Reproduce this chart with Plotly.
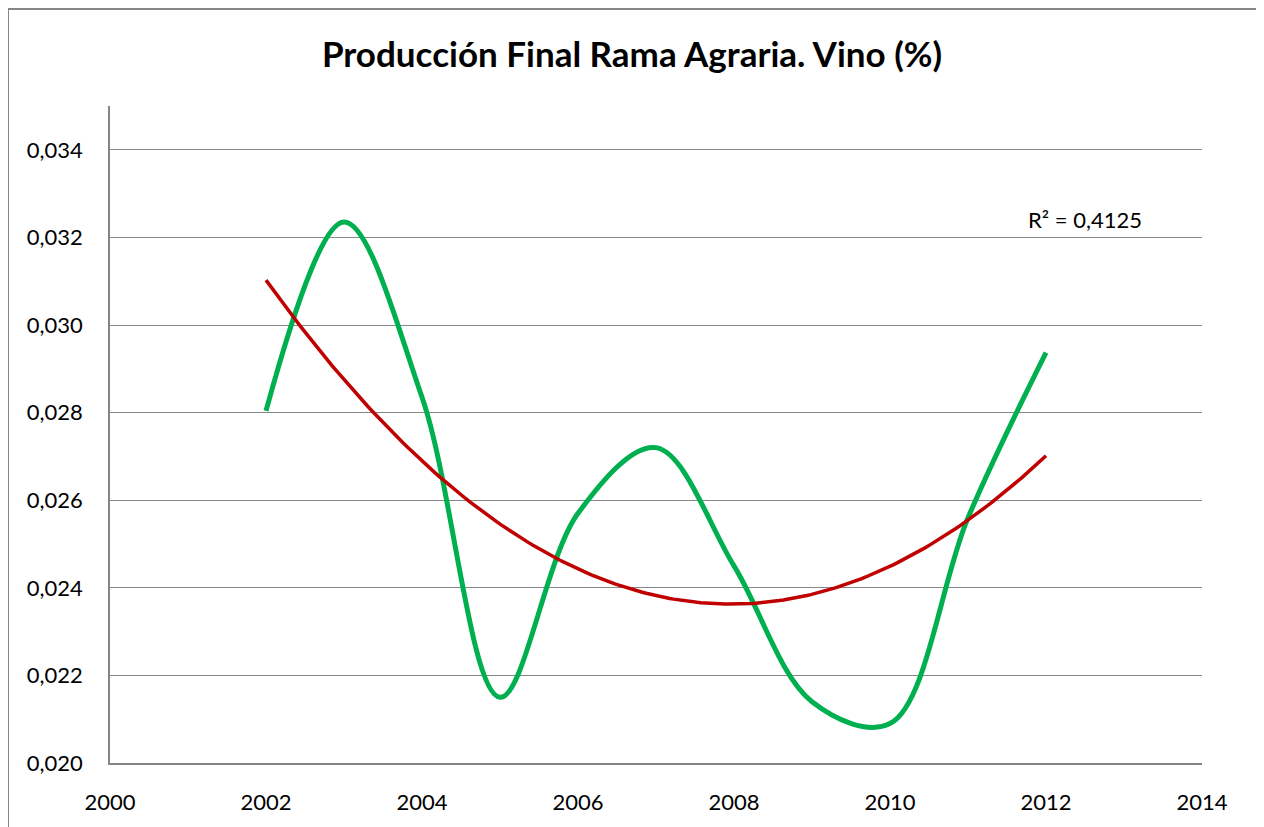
import numpy as np
import plotly.graph_objects as go

# Data
years = [2002, 2003, 2004, 2005, 2006, 2007, 2008, 2009, 2010, 2011, 2012]
vino = [0.02804, 0.03235, 0.02835, 0.02150, 0.02570, 0.02720, 0.02450,
        0.02140, 0.02090, 0.02560, 0.02937]
r2_label = "R² = 0,4125"
title_text = "Producción Final Rama Agraria. Vino (%)"
x_ticks = [2000, 2002, 2004, 2006, 2008, 2010, 2012, 2014]
y_ticks = [0.020, 0.022, 0.024, 0.026, 0.028, 0.030, 0.032, 0.034]

# Polynomial (order 2) trend line, as in the spreadsheet
coef = np.polyfit(years, vino, 2)
trend_x = np.linspace(years[0], years[-1], 200)
trend_y = np.polyval(coef, trend_x)

# page has an 8px body margin, so the figure is drawn from (8, 8)
W, H = 1256, 819
L, R, T, B = 102, 62, 98, 64
pw, ph = W - L - R, H - T - B

fig = go.Figure()
fig.add_trace(go.Scatter(x=years, y=vino, mode="lines",
                         line=dict(color="#00B050", width=5, shape="spline", smoothing=1.0),
                         showlegend=False, hoverinfo="x+y"))
fig.add_trace(go.Scatter(x=trend_x, y=trend_y, mode="lines",
                         line=dict(color="#C00000", width=3.5),
                         showlegend=False, hoverinfo="skip"))

fig.update_layout(
    width=W, height=H,
    margin=dict(l=L, r=R, t=T, b=B, pad=0),
    paper_bgcolor="white", plot_bgcolor="white",
    separators=",.",
    font=dict(family="Lato, Open Sans, sans-serif", size=22, color="black"),
    title=dict(text="<b>" + title_text + "</b>", x=624 / W, xanchor="center",
               y=1 - 47 / H, yanchor="middle",
               font=dict(family="Lato, Open Sans, sans-serif", size=35, color="black")),
    xaxis=dict(range=[2000, 2014], tickvals=x_ticks, tickformat="d",
               showgrid=False, zeroline=False,
               showline=True, linecolor="#868686", linewidth=1.5,
               ticks="", ticklabelstandoff=19, tickfont=dict(size=22)),
    yaxis=dict(range=[0.020, 0.035], tickvals=y_ticks, tickformat=".3f",
               showgrid=True, gridcolor="#868686", gridwidth=1.2,
               zeroline=False,
               showline=True, linecolor="#868686", linewidth=1.5,
               ticks="", ticklabelstandoff=21, tickfont=dict(size=22)),
    annotations=[dict(text=r2_label, x=2012.5, y=0.0324, xref="x", yref="y",
                      showarrow=False, xanchor="center", yanchor="middle",
                      font=dict(size=22, color="black"))],
    shapes=[dict(type="rect", xref="paper", yref="paper",
                 x0=(0 - L) / pw, x1=(1249 - L) / pw,
                 y0=-(B + 20) / ph, y1=(H - B - 1) / ph,
                 line=dict(color="#868686", width=2), layer="below")],
)

fig.write_html("out.html")
